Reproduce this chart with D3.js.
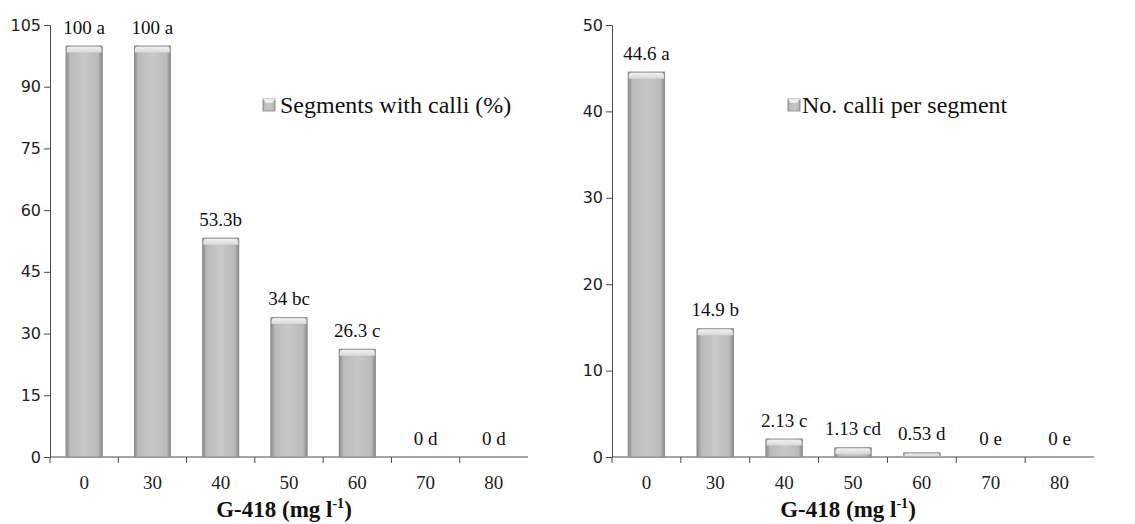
<!DOCTYPE html>
<html>
<head>
<meta charset="utf-8">
<script src="https://cdn.jsdelivr.net/npm/d3@7"></script>
<style>
  body { margin: 0; background: #fff; }
  svg { display: block; }
  .ytick text { font-family: "DejaVu Sans", sans-serif; font-size: 16px; fill: #222; }
  .xtick text { font-family: "Liberation Serif", serif; font-size: 19px; fill: #222; }
  .axis path, .axis line { stroke: #4a4a4a; }
</style>
</head>
<body>
<div id="graph"></div>
<script>
// G-418 concentrations (mg l-1)
var doses = ["0", "30", "40", "50", "60", "70", "80"];

// left panel: segments with calli (%)
var pctValues = [100, 100, 53.3, 34, 26.3, 0, 0];
var pctLabels = ["100 a", "100 a", "53.3b", "34 bc", "26.3 c", "0 d", "0 d"];
var pctTicks = [0, 15, 30, 45, 60, 75, 90, 105];
var pctName = "Segments with calli (%)";

// right panel: number of calli per segment
var noValues = [44.6, 14.9, 2.13, 1.13, 0.53, 0, 0];
var noLabels = ["44.6 a", "14.9 b", "2.13 c", "1.13 cd", "0.53 d", "0 e", "0 e"];
var noTicks = [0, 10, 20, 30, 40, 50];
var noName = "No. calli per segment";

var W = 1135, H = 524;
var svg = d3.select("div#graph").append("svg")
	.attr("width", W)
	.attr("height", H);

// gradients for the bevelled excel-like bars
var defs = svg.append("defs");
var sideGrad = defs.append("linearGradient").attr("id", "barSide")
	.attr("x1", "0").attr("x2", "1").attr("y1", "0").attr("y2", "0");
[[0, "#858585"], [0.12, "#bababa"], [0.5, "#c8c8c8"], [0.88, "#bababa"], [1, "#858585"]]
	.forEach(function(s) { sideGrad.append("stop").attr("offset", s[0]).attr("stop-color", s[1]); });
var topGrad = defs.append("linearGradient").attr("id", "barTop")
	.attr("x1", "0").attr("x2", "0").attr("y1", "0").attr("y2", "1");
[[0, "#f6f6f6"], [1, "#d8d8d8"]]
	.forEach(function(s) { topGrad.append("stop").attr("offset", s[0]).attr("stop-color", s[1]); });

function drawPanel(opt) {
	var g = svg.append("g");

	var x = d3.scaleBand().domain(doses).range([opt.left, opt.right]).paddingInner(0.46).paddingOuter(0.23);
	var xTicks = d3.scaleBand().domain(doses).range([opt.left, opt.right]);
	var y = d3.scaleLinear().domain([0, opt.max]).range([opt.bottom, opt.top]);

	// y axis
	var yAxis = g.append("g")
		.attr("class", "axis ytick")
		.attr("transform", "translate(" + opt.left + ",0)")
		.call(d3.axisLeft(y).tickValues(opt.ticks).tickSize(6).tickPadding(3).tickSizeOuter(6));
	yAxis.select(".domain").attr("stroke", "#4a4a4a");

	// x axis: ticks sit between categories
	var xAxis = g.append("g")
		.attr("class", "axis xtick")
		.attr("transform", "translate(0," + opt.bottom + ")");
	xAxis.append("line")
		.attr("x1", opt.left).attr("x2", opt.right)
		.attr("stroke", "#4a4a4a");
	xAxis.selectAll("line.tk").data(doses).enter().append("line")
		.attr("class", "tk")
		.attr("x1", function(d) { return xTicks(d); })
		.attr("x2", function(d) { return xTicks(d); })
		.attr("y1", 0).attr("y2", 6)
		.attr("stroke", "#4a4a4a");
	xAxis.selectAll("text").data(doses).enter().append("text")
		.attr("x", function(d) { return xTicks(d) + xTicks.bandwidth() / 2; })
		.attr("y", 32)
		.attr("text-anchor", "middle")
		.text(function(d) { return d; });

	// bars
	var bw = x.bandwidth();
	g.selectAll("g.bar").data(opt.values).enter().append("g").attr("class", "bar")
		.each(function(d, i) {
			if (d <= 0) return;
			var b = d3.select(this);
			var x0 = x(doses[i]), y0 = y(d), h = opt.bottom - y0;
			var bev = Math.min(7, h);
			b.append("rect")
				.attr("x", x0).attr("y", y0)
				.attr("width", bw).attr("height", h)
				.attr("fill", "url(#barSide)");
			b.append("path")
				.attr("d", "M" + x0 + "," + (y0 + bev) +
					" Q" + x0 + "," + y0 + " " + (x0 + bev) + "," + y0 +
					" L" + (x0 + bw - bev) + "," + y0 +
					" Q" + (x0 + bw) + "," + y0 + " " + (x0 + bw) + "," + (y0 + bev) +
					" L" + (x0 + bw - bev) + "," + (y0 + bev) +
					" L" + (x0 + bev) + "," + (y0 + bev) + " Z")
				.attr("fill", "url(#barTop)");
			b.append("rect")
				.attr("x", x0 + 0.5).attr("y", y0 + 0.5)
				.attr("width", bw - 1).attr("height", h - 0.5)
				.attr("fill", "none")
				.attr("stroke", "#8f8f8f")
				.attr("rx", 2);
		});

	// value labels with significance letters
	g.selectAll("text.val").data(opt.labels).enter().append("text")
		.attr("class", "val")
		.attr("x", function(d, i) { return x(doses[i]) + bw / 2; })
		.attr("y", function(d, i) { return y(opt.values[i]) - 12; })
		.attr("text-anchor", "middle")
		.style("font-family", "Liberation Serif, serif")
		.style("font-size", "19px")
		.attr("fill", "#111")
		.text(function(d) { return d; });

	// legend
	var lg = g.append("g").attr("transform", "translate(" + opt.legendX + "," + opt.legendY + ")");
	lg.append("rect").attr("x", 0).attr("y", -14).attr("width", 12).attr("height", 12)
		.attr("fill", "url(#barSide)").attr("stroke", "#999");
	lg.append("path").attr("d", "M0,-14 L12,-14 L9,-10 L3,-10 Z").attr("fill", "#eee");
	lg.append("text")
		.attr("x", opt.legendGap).attr("y", 0)
		.style("font-family", "Liberation Serif, serif")
		.style("font-size", "24px")
		.attr("fill", "#111")
		.text(opt.name);

	// axis title
	var t = g.append("text")
		.attr("x", (opt.left + opt.right) / 2 - 5)
		.attr("y", 517)
		.attr("text-anchor", "middle")
		.style("font-family", "Liberation Serif, serif")
		.style("font-size", "23px")
		.style("font-weight", "bold")
		.attr("fill", "#111");
	t.append("tspan").text("G-418 (mg l");
	t.append("tspan").attr("dy", -9).style("font-size", "14px").text("-1");
	t.append("tspan").attr("dy", 9).text(")");
}

drawPanel({
	left: 50, right: 528, top: 25, bottom: 457,
	max: 105, ticks: pctTicks,
	values: pctValues, labels: pctLabels, name: pctName,
	legendX: 263, legendY: 113, legendGap: 17
});

drawPanel({
	left: 612, right: 1094, top: 25, bottom: 457,
	max: 50, ticks: noTicks,
	values: noValues, labels: noLabels, name: noName,
	legendX: 788, legendY: 113, legendGap: 14
});
</script>
</body>
</html>
